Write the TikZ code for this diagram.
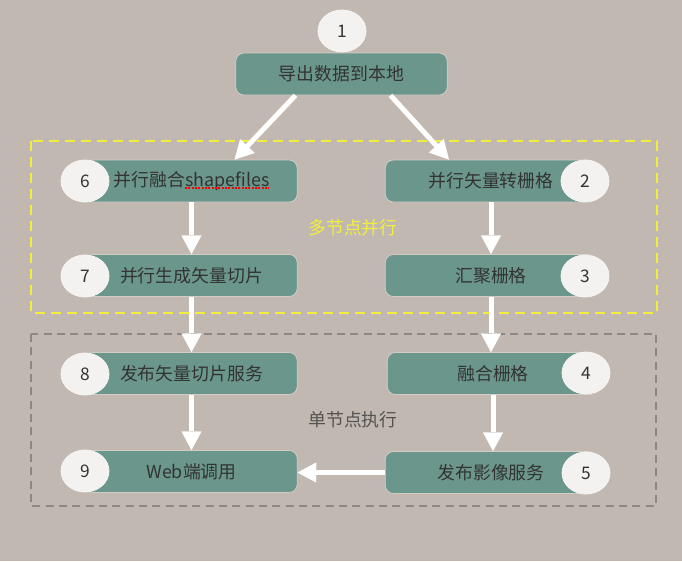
\documentclass[tikz,border=0pt]{standalone}
\usepackage{fontspec}
\setmainfont{Noto Sans CJK SC}
\usetikzlibrary{shapes.geometric,arrows.meta,calc}
\definecolor{bgcol}{HTML}{C1B9B1}
\definecolor{boxcol}{HTML}{6A968C}
\definecolor{boxedge}{HTML}{D3CCC5}
\definecolor{numcol}{HTML}{F3F2F0}
\definecolor{txtcol}{HTML}{333333}
\definecolor{multicol}{HTML}{F2EE3C}
\definecolor{singlecol}{HTML}{8C8782}
\definecolor{singletxt}{HTML}{555250}
\begin{document}
\begin{tikzpicture}[
x=0.75pt,y=-0.75pt,
box/.style={draw=boxedge,line width=0.6pt,fill=boxcol,rounded corners=6pt,minimum width=158.5pt,minimum height=31.5pt,inner sep=0pt,text=txtcol,font=\fontsize{13.4}{16}\selectfont},
num/.style={ellipse,draw=white!80!boxedge,line width=0.6pt,fill=numcol,minimum width=36pt,minimum height=31.5pt,inner sep=0pt,text=txtcol,font=\fontsize{13}{16}\selectfont},
flow/.style={draw=white,line width=3.75pt,-{Triangle[width=15pt,length=14pt,line width=0.1pt]}},
group/.style={draw,line width=1.5pt},
label/.style={font=\fontsize{13.4}{16}\selectfont},
]

\fill[bgcol] (0,0) rectangle (682,561);
\useasboundingbox (0,0) rectangle (682,561);

%groups
\path[group,draw=multicol,dash pattern=on 7.5pt off 4.5pt] (31,141) rectangle (657,313);
\path[group,draw=singlecol,dash pattern=on 6pt off 4pt] (31,334) rectangle (656,506);
\node[label,text=multicol] (multi) at (353,228) {多节点并行};
\node[label,text=singletxt] (single) at (353,420) {单节点执行};

%steps
\node[box] (b1) at (341.5,74) {导出数据到本地};

\node[box] (b6) at (191.5,181) {并行融合shapefiles};
	\node[box] (b7) at (191.5,275.5) {并行生成矢量切片};
	\node[box] (b8) at (191.5,373.5) {发布矢量切片服务};
	\node[box] (b9) at (191.5,471.5) {Web端调用};

\node[box] (b2) at (491,181) {并行矢量转栅格};
	\node[box] (b3) at (491,275.5) {汇聚栅格};
	\node[box] (b4) at (493,373.5) {融合栅格};
	\node[box] (b5) at (491,472.5) {发布影像服务};

\draw[red,dashed,dash pattern=on 1.5pt off 1pt,line width=0.9pt] (185,188) -- (269,188);

%numbers
\node[num] (n1) at (342,31) {1};
\node[num] (n2) at (585,181) {2};
\node[num] (n3) at (585,276) {3};
\node[num] (n4) at (586,373) {4};
\node[num] (n5) at (586,473) {5};
\node[num] (n6) at (85,181) {6};
\node[num] (n7) at (85,276) {7};
\node[num] (n8) at (85,374) {8};
\node[num] (n9) at (85,471) {9};

%arrows
\path[flow] ($(b1.south west)+(60,0)$) -- ($(b6.north east)+(-63,0)$);
\path[flow] ($(b1.south east)+(-57,0)$) -- ($(b2.north west)+(64,0)$);
\path[flow] (b6) -- (b7);
\path[flow] (b7) -- (b8);
\path[flow] (b8) -- (b9);
\path[flow] (b2) -- (b3);
\path[flow] (b3.south) -- (b3.south |- b4.north);
\path[flow] (b4.south) -- (b4.south |- b5.north);
\path[flow] (b5.west) -- (b5.west -| b9.east);

\end{tikzpicture}
\end{document}
